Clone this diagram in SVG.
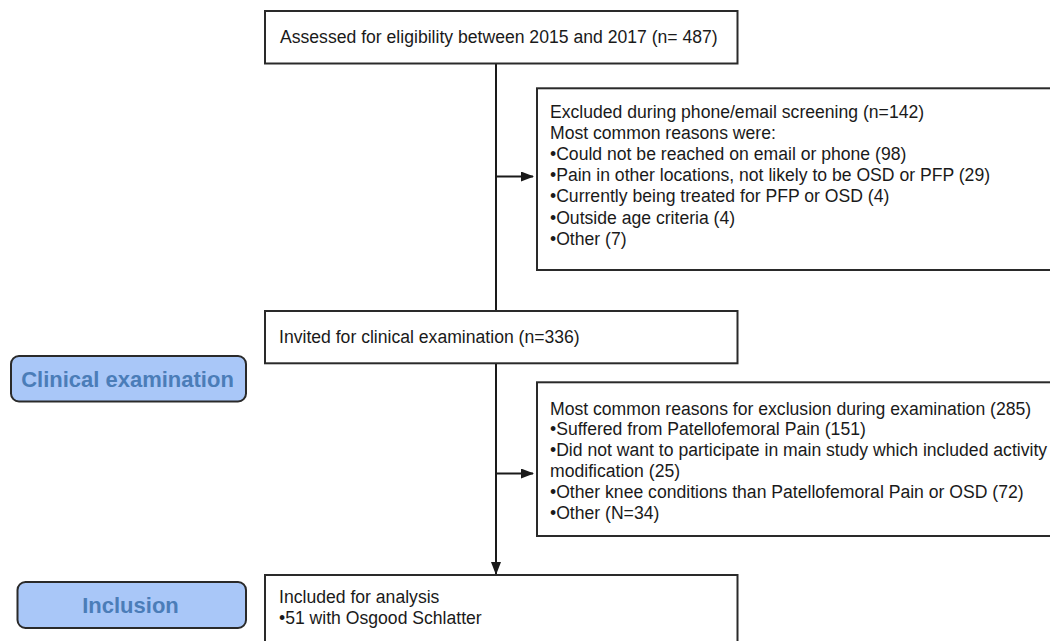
<svg xmlns="http://www.w3.org/2000/svg" width="1050" height="641" viewBox="0 0 1050 641">
<defs>
<style>
.box{fill:#ffffff;stroke:#2a2a2a;stroke-width:2}
.t{font-family:"Liberation Sans",Arial,sans-serif;font-size:17.6px;fill:#1a1a1a}
.btn{fill:#a9c7f8;stroke:#2a2a2a;stroke-width:2}
.bt{font-family:"Liberation Sans",Arial,sans-serif;font-size:22px;font-weight:bold;fill:#4b7db8;text-anchor:middle}
.ln{fill:none;stroke:#1a1a1a;stroke-width:2}
</style>
<marker id="ah" markerWidth="13" markerHeight="10" refX="12" refY="5" orient="auto" markerUnits="userSpaceOnUse">
<path d="M0,0 L13,5 L0,10 Z" fill="#1a1a1a"/>
</marker>
</defs>
<rect width="1050" height="641" fill="#ffffff"/>
<g id="connectors">
<line class="ln" x1="496" y1="63" x2="496" y2="311"/>
<line class="ln" x1="496" y1="176.5" x2="533" y2="176.5" marker-end="url(#ah)"/>
<line class="ln" x1="496" y1="363" x2="496" y2="574" marker-end="url(#ah)"/>
<line class="ln" x1="496" y1="473.5" x2="533" y2="473.5" marker-end="url(#ah)"/>
</g>
<g id="assessed">
<rect class="box" x="265" y="11" width="472.5" height="52.5"/>
<text class="t" x="280" y="43.3">Assessed for eligibility between 2015 and 2017 (n= 487)</text>
</g>
<g id="excluded1">
<rect class="box" x="537" y="88.3" width="530" height="181.7"/>
<text class="t" x="550">
<tspan x="550" y="117.5">Excluded during phone/email screening (n=142)</tspan>
<tspan x="550" y="138.7">Most common reasons were:</tspan>
<tspan x="550" y="159.9">•Could not be reached on email or phone (98)</tspan>
<tspan x="550" y="181.1">•Pain in other locations, not likely to be OSD or PFP (29)</tspan>
<tspan x="550" y="202.3">•Currently being treated for PFP or OSD (4)</tspan>
<tspan x="550" y="223.5">•Outside age criteria (4)</tspan>
<tspan x="550" y="244.7">•Other (7)</tspan>
</text>
</g>
<g id="invited">
<rect class="box" x="265" y="311" width="472.5" height="52.3"/>
<text class="t" x="279" y="342.5">Invited for clinical examination (n=336)</text>
</g>
<g id="excluded2">
<rect class="box" x="537" y="382.3" width="530" height="153.7"/>
<text class="t">
<tspan x="550" y="414.5">Most common reasons for exclusion during examination (285)</tspan>
<tspan x="550" y="435.4">•Suffered from Patellofemoral Pain (151)</tspan>
<tspan x="550" y="456.3">•Did not want to participate in main study which included activity</tspan>
<tspan x="550" y="477.2">modification (25)</tspan>
<tspan x="550" y="498.1">•Other knee conditions than Patellofemoral Pain or OSD (72)</tspan>
<tspan x="550" y="519">•Other (N=34)</tspan>
</text>
</g>
<g id="included">
<rect class="box" x="265" y="575" width="472.5" height="80"/>
<text class="t">
<tspan x="279" y="603.3">Included for analysis</tspan>
<tspan x="279" y="623.5">•51 with Osgood Schlatter</tspan>
</text>
</g>
<g id="stage-clinical">
<rect class="btn" x="11" y="356" width="235" height="45.5" rx="8" ry="8"/>
<text class="bt" x="127.5" y="386.5">Clinical examination</text>
</g>
<g id="stage-inclusion">
<rect class="btn" x="17.5" y="582" width="228.5" height="46" rx="8" ry="8"/>
<text class="bt" x="130.5" y="612.5">Inclusion</text>
</g>
</svg>
